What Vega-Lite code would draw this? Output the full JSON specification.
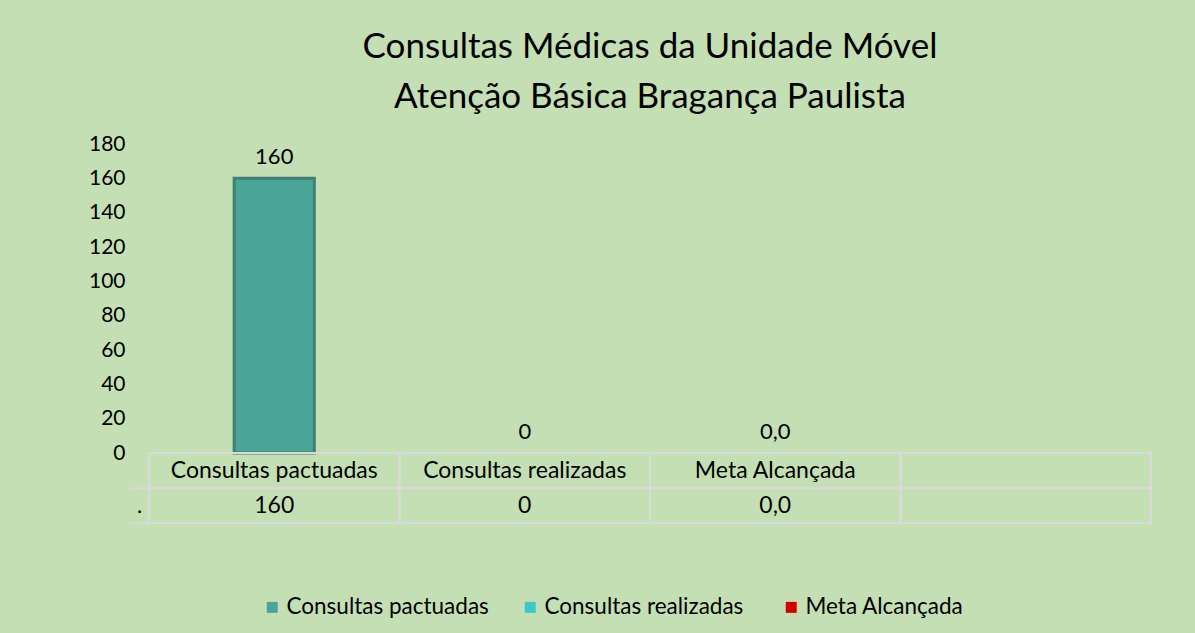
{
  "$schema": "https://vega.github.io/schema/vega-lite/v6.json",
  "background": "#C5DFB4",
  "padding": {"left": 88, "top": 30, "right": 44, "bottom": 20},
  "bounds": "flush",
  "spacing": 0,
  "config": {"font": "Lato", "view": {"stroke": null}, "axis": {"labelOverlap": false}},
  "datasets": {
    "bars": [
      {"category": "Consultas pactuadas", "series": "Consultas pactuadas", "value": 160, "label": "160"},
      {"category": "Consultas  realizadas", "series": "Consultas  realizadas", "value": 0, "label": "0"},
      {"category": "Meta Alcançada", "series": "Meta Alcançada", "value": 0, "label": "0,0"}
    ],
    "table": [
      {"row": "header", "category": "Consultas pactuadas", "text": "Consultas pactuadas"},
      {"row": "header", "category": "Consultas  realizadas", "text": "Consultas  realizadas"},
      {"row": "header", "category": "Meta Alcançada", "text": "Meta Alcançada"},
      {"row": "header", "category": " ", "text": ""},
      {"row": "values", "category": "Consultas pactuadas", "text": "160"},
      {"row": "values", "category": "Consultas  realizadas", "text": "0"},
      {"row": "values", "category": "Meta Alcançada", "text": "0,0"},
      {"row": "values", "category": " ", "text": ""}
    ]
  },
  "vconcat": [
    {
      "width": 1002,
      "height": 309,
      "title": {
        "text": ["Consultas Médicas da Unidade Móvel", "Atenção Básica  Bragança Paulista"],
        "fontSize": 35, "font": "Lato", "fontWeight": "normal", "color": "#000000",
        "lineHeight": 50, "anchor": "middle", "frame": "group", "offset": 18
      },
      "data": {"name": "bars"},
      "encoding": {
        "x": {"field": "category", "type": "nominal", "sort": null,
          "scale": {"domain": ["Consultas pactuadas", "Consultas  realizadas", "Meta Alcançada", " "], "paddingInner": 0, "paddingOuter": 0},
          "axis": null},
        "y": {"field": "value", "type": "quantitative", "scale": {"domain": [0, 180], "nice": false},
          "axis": {"values": [0, 20, 40, 60, 80, 100, 120, 140, 160, 180], "title": null, "domain": false, "ticks": false, "grid": false,
            "labelOverlap": false, "labelSeparation": 0, "labelFontSize": 21, "labelFont": "Lato", "labelColor": "#000000", "labelPadding": 24}}
      },
      "layer": [
        {
          "transform": [{"filter": "datum.value > 0"}],
          "mark": {"type": "bar", "width": {"band": 0.32}, "stroke": "#3D8175", "strokeWidth": 3},
          "encoding": {
            "color": {"field": "series", "type": "nominal",
              "scale": {"domain": ["Consultas pactuadas", "Consultas  realizadas", "Meta Alcançada"], "range": ["#4BA596", "#3CC7C9", "#D40000"]},
              "legend": {"orient": "none", "legendX": 112, "legendY": 452, "direction": "horizontal", "title": null, "labelFontSize": 22.5, "labelFont": "Lato", "labelColor": "#000000", "labelLimit": 0, "labelOffset": 3,
                "symbolType": "square", "symbolSize": 120, "symbolStrokeWidth": 0, "symbolOpacity": 1, "columnPadding": 30}}
          }
        },
        {
          "mark": {"type": "text", "baseline": "bottom", "dy": -9, "fontSize": 22, "font": "Lato", "color": "#000000"},
          "encoding": {
            "text": {"field": "label"}
          }
        }
      ]
    },
    {
      "width": 1002,
      "height": 70,
      "data": {"name": "table"},
      "encoding": {
        "x": {"field": "category", "type": "nominal", "sort": null,
          "scale": {"domain": ["Consultas pactuadas", "Consultas  realizadas", "Meta Alcançada", " "], "paddingInner": 0, "paddingOuter": 0},
          "axis": null},
        "y": {"field": "row", "type": "nominal", "sort": null,
          "scale": {"domain": ["header", "values"], "paddingInner": 0, "paddingOuter": 0},
          "axis": {"title": null, "domain": false, "ticks": true, "tickSize": 20, "bandPosition": 1, "tickColor": "#D9D9D9", "tickWidth": 2,
            "labelExpr": "datum.value == 'values' ? '.' : ''", "labelAlign": "center", "labelPadding": -10, "labelFontSize": 22, "labelFont": "Lato", "labelColor": "#000000"}}
      },
      "layer": [
        {"mark": {"type": "rect", "fillOpacity": 0, "stroke": "#D9D9D9", "strokeWidth": 2}},
        {"mark": {"type": "text", "fontSize": 23, "font": "Lato", "color": "#000000"}, "encoding": {"text": {"field": "text"}}}
      ]
    }
  ]
}
